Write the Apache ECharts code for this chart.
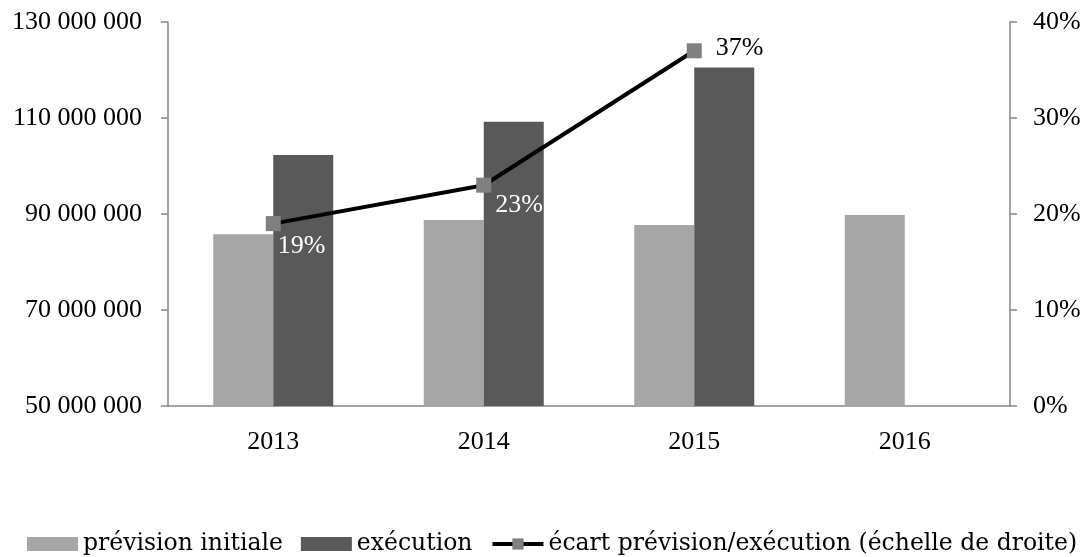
<!DOCTYPE html>
<html>
<head>
<meta charset="utf-8">
<script src="https://cdn.jsdelivr.net/npm/echarts@6/dist/echarts.min.js"></script>
<style>
  html, body { margin: 0; padding: 0; background: #fff; }
  #chart { width: 1085px; height: 557px; }
</style>
</head>
<body>
<div id="chart"></div>
<script>
// Budget: initial forecast vs. execution, with the gap in % on the right axis
const years = ['2013', '2014', '2015', '2016'];
const previsionInitiale = [85800000, 88750000, 87700000, 89800000];
const execution = [102300000, 109200000, 120500000, null];
const ecartPct = [19, 23, 37, null];

const leftTicks = { min: 50000000, max: 130000000, interval: 20000000 };
const rightTicks = { min: 0, max: 40, interval: 10 };

const seriesNames = [
  'prévision initiale',
  'exécution',
  'écart prévision/exécution (échelle de droite)'
];

// label placement / colour for each point of the gap line
const gapLabelStyle = [
  { color: '#ffffff', offset: [-8, 23] },
  { color: '#ffffff', offset: [-1, 20] },
  { color: '#000000', offset: [9, -3] },
  { color: '#000000', offset: [0, 0] }
];

const serif = '"Liberation Serif", "Times New Roman", serif';
const axisGrey = '#868686';

function spaced(v) {
  return String(v).replace(/\B(?=(\d{3})+(?!\d))/g, ' ');
}

const chart = echarts.init(document.getElementById('chart'), null, { renderer: 'canvas' });

chart.setOption({
  animation: false,
  backgroundColor: '#ffffff',
  grid: { left: 168, right: 75, top: 22, bottom: 151, containLabel: false },
  legend: {
    left: 27,
    top: 532,
    width: 1058,
    padding: 0,
    itemWidth: 51,
    itemHeight: 14,
    itemGap: 18,
    lineStyle: { width: 4 },
    textStyle: { fontFamily: '"DejaVu Serif", serif', fontSize: 23.5, color: '#000' },
    data: [
      { name: seriesNames[0], icon: 'rect' },
      { name: seriesNames[1], icon: 'rect' },
      { name: seriesNames[2] }
    ]
  },
  xAxis: {
    type: 'category',
    data: years,
    boundaryGap: true,
    axisLine: { lineStyle: { color: axisGrey, width: 1.5 } },
    axisTick: { length: 7, lineStyle: { color: axisGrey, width: 1.5 } },
    axisLabel: { margin: 23, fontFamily: serif, fontSize: 26, color: '#000' }
  },
  yAxis: [
    {
      type: 'value',
      min: leftTicks.min,
      max: leftTicks.max,
      interval: leftTicks.interval,
      splitLine: { show: false },
      axisLine: { show: true, lineStyle: { color: axisGrey, width: 1.5 } },
      axisTick: { show: true, length: 7, lineStyle: { color: axisGrey, width: 1.5 } },
      axisLabel: { margin: 26, fontFamily: serif, fontSize: 26, color: '#000', formatter: spaced }
    },
    {
      type: 'value',
      position: 'right',
      min: rightTicks.min,
      max: rightTicks.max,
      interval: rightTicks.interval,
      splitLine: { show: false },
      axisLine: { show: true, lineStyle: { color: axisGrey, width: 1.5 } },
      axisTick: { show: true, length: 7, lineStyle: { color: axisGrey, width: 1.5 } },
      axisLabel: { margin: 23, fontFamily: serif, fontSize: 26, color: '#000', formatter: '{value}%' }
    }
  ],
  series: [
    {
      name: seriesNames[0],
      type: 'bar',
      yAxisIndex: 0,
      barWidth: 60,
      barGap: '0%',
      itemStyle: { color: '#a6a6a6' },
      data: previsionInitiale
    },
    {
      name: seriesNames[1],
      type: 'bar',
      yAxisIndex: 0,
      barWidth: 60,
      barGap: '0%',
      itemStyle: { color: '#595959' },
      data: execution
    },
    {
      name: seriesNames[2],
      type: 'line',
      yAxisIndex: 1,
      z: 5,
      symbol: 'rect',
      symbolSize: 15,
      connectNulls: false,
      lineStyle: { color: '#000000', width: 4 },
      itemStyle: { color: '#808080' },
      label: {
        show: true,
        position: 'right',
        fontFamily: serif,
        fontSize: 26,
        formatter: p => p.value + '%'
      },
      data: ecartPct.map((v, i) => ({
        value: v,
        label: { color: gapLabelStyle[i].color, offset: gapLabelStyle[i].offset }
      }))
    }
  ]
});
</script>
</body>
</html>
